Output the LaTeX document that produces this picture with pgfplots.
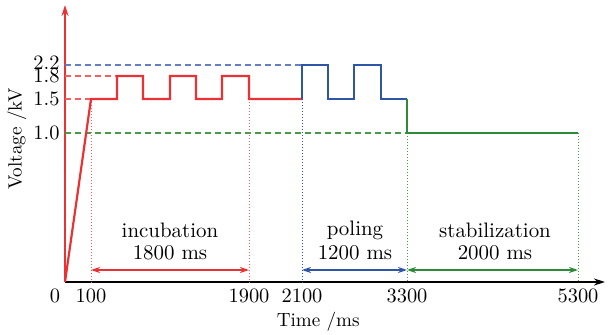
\documentclass[border=0pt]{standalone}
\usepackage{fontspec}
\setmainfont{lmroman10-regular.otf}[ItalicFont=lmroman10-italic.otf,BoldFont=lmroman10-bold.otf]
\usepackage{pgfplots}
\pgfplotsset{compat=1.18}
\usetikzlibrary{arrows.meta}
\definecolor{cred}{RGB}{234,50,52}
\definecolor{cblue}{RGB}{46,86,166}
\definecolor{cgreen}{RGB}{46,138,54}
\definecolor{dred}{RGB}{240,96,96}
\definecolor{dblue}{RGB}{100,126,196}
\definecolor{dgreen}{RGB}{70,156,70}
\newcommand{\tl}[1]{\mbox{\normalfont\fontsize{20.5}{22}\selectfont #1}}
\newcommand{\al}[1]{\mbox{\normalfont\fontsize{19.2}{22}\selectfont #1}}
\begin{document}
\begin{tikzpicture}
\begin{axis}[
  x=1bp, y=1bp,
  xmin=0, xmax=540, ymin=0, ymax=277,
  axis x line=bottom, axis y line=left,
  x axis line style={black, line width=1.6bp, -{Stealth[length=11bp,width=7bp]}},
  y axis line style={cred, line width=1.6bp, -{Stealth[length=11bp,width=7bp]}},
  major tick length=0pt,
  xtick={0,26,184,237,342,513},
  xticklabels={\makebox[0pt][r]{\tl{0}\hspace{5bp}},\tl{100},\tl{1900},\tl{2100},\tl{3300},\tl{5300}},
  ytick={149,183,206,217},
  yticklabels={\tl{1.0},\tl{1.5},\raisebox{-4bp}{\tl{1.8}},\raisebox{5bp}{\tl{2.2}}},
  xticklabel style={yshift=-3bp},
  yticklabel style={xshift=-2bp},
  xlabel={\al{Time /ms}},
  ylabel={\al{Voltage /kV}},
  xlabel style={at={(axis description cs:0.469,-0.144)}, anchor=center},
  ylabel style={at={(axis description cs:-0.089,0.516)}, anchor=center},
  clip=false,
]
% dashed reference levels
\addplot[dblue, line width=1.3bp, dash pattern=on 6bp off 4bp] coordinates {(0,217) (237,217)};
\addplot[dred, line width=1.3bp, dash pattern=on 6bp off 4bp] coordinates {(0,206) (52,206)};
\addplot[dred, line width=1.3bp, dash pattern=on 6bp off 4bp] coordinates {(0,183) (26,183)};
\addplot[dgreen, line width=1.3bp, dash pattern=on 6bp off 4bp] coordinates {(0,149) (342,149)};
% dotted verticals
\addplot[dred, dotted, line width=1bp] coordinates {(26,183) (26,0)};
\addplot[dred, dotted, line width=1bp] coordinates {(184,183) (184,0)};
\addplot[cblue, dotted, line width=1bp] coordinates {(237,183) (237,0)};
\addplot[dgreen, dotted, line width=1bp] coordinates {(342,149) (342,0)};
\addplot[dgreen, dotted, line width=1bp] coordinates {(513,149) (513,0)};
% interval arrows
\addplot[cred, line width=1.3bp, {Stealth[length=9bp,width=6bp]}-{Stealth[length=9bp,width=6bp]}] coordinates {(26,12) (184,12)};
\addplot[cblue, line width=1.3bp, {Stealth[length=9bp,width=6bp]}-{Stealth[length=9bp,width=6bp]}] coordinates {(237,12) (342,12)};
\addplot[cgreen, line width=1.3bp, {Stealth[length=9bp,width=6bp]}-{Stealth[length=9bp,width=6bp]}] coordinates {(342,12) (513,12)};
% voltage waveform
\addplot[cred, line width=2.2bp] coordinates {(0,0) (26,183) (52,183) (52,206) (78,206) (78,183) (105,183) (105,206) (131,206) (131,183) (157,183) (157,206) (184,206) (184,183) (237,183)};
\addplot[cblue, line width=2.2bp] coordinates {(237,183) (237,217) (263,217) (263,183) (289,183) (289,217) (316,217) (316,183) (342,183)};
\addplot[cgreen, line width=2.2bp] coordinates {(342,183) (342,149) (513,149)};
% annotations
\node[font=\fontsize{21}{22}\selectfont] at (axis cs:105,52) {incubation};
\node[font=\fontsize{21}{22}\selectfont] at (axis cs:105,29) {1800 ms};
\node[font=\fontsize{21}{22}\selectfont] at (axis cs:290,52) {poling};
\node[font=\fontsize{21}{22}\selectfont] at (axis cs:290,29) {1200 ms};
\node[font=\fontsize{21}{22}\selectfont] at (axis cs:430,52) {stabilization};
\node[font=\fontsize{21}{22}\selectfont] at (axis cs:430,29) {2000 ms};
\end{axis}
\path[use as bounding box] (-65bp,-53bp) rectangle (544bp,282bp);
\end{tikzpicture}
\end{document}
